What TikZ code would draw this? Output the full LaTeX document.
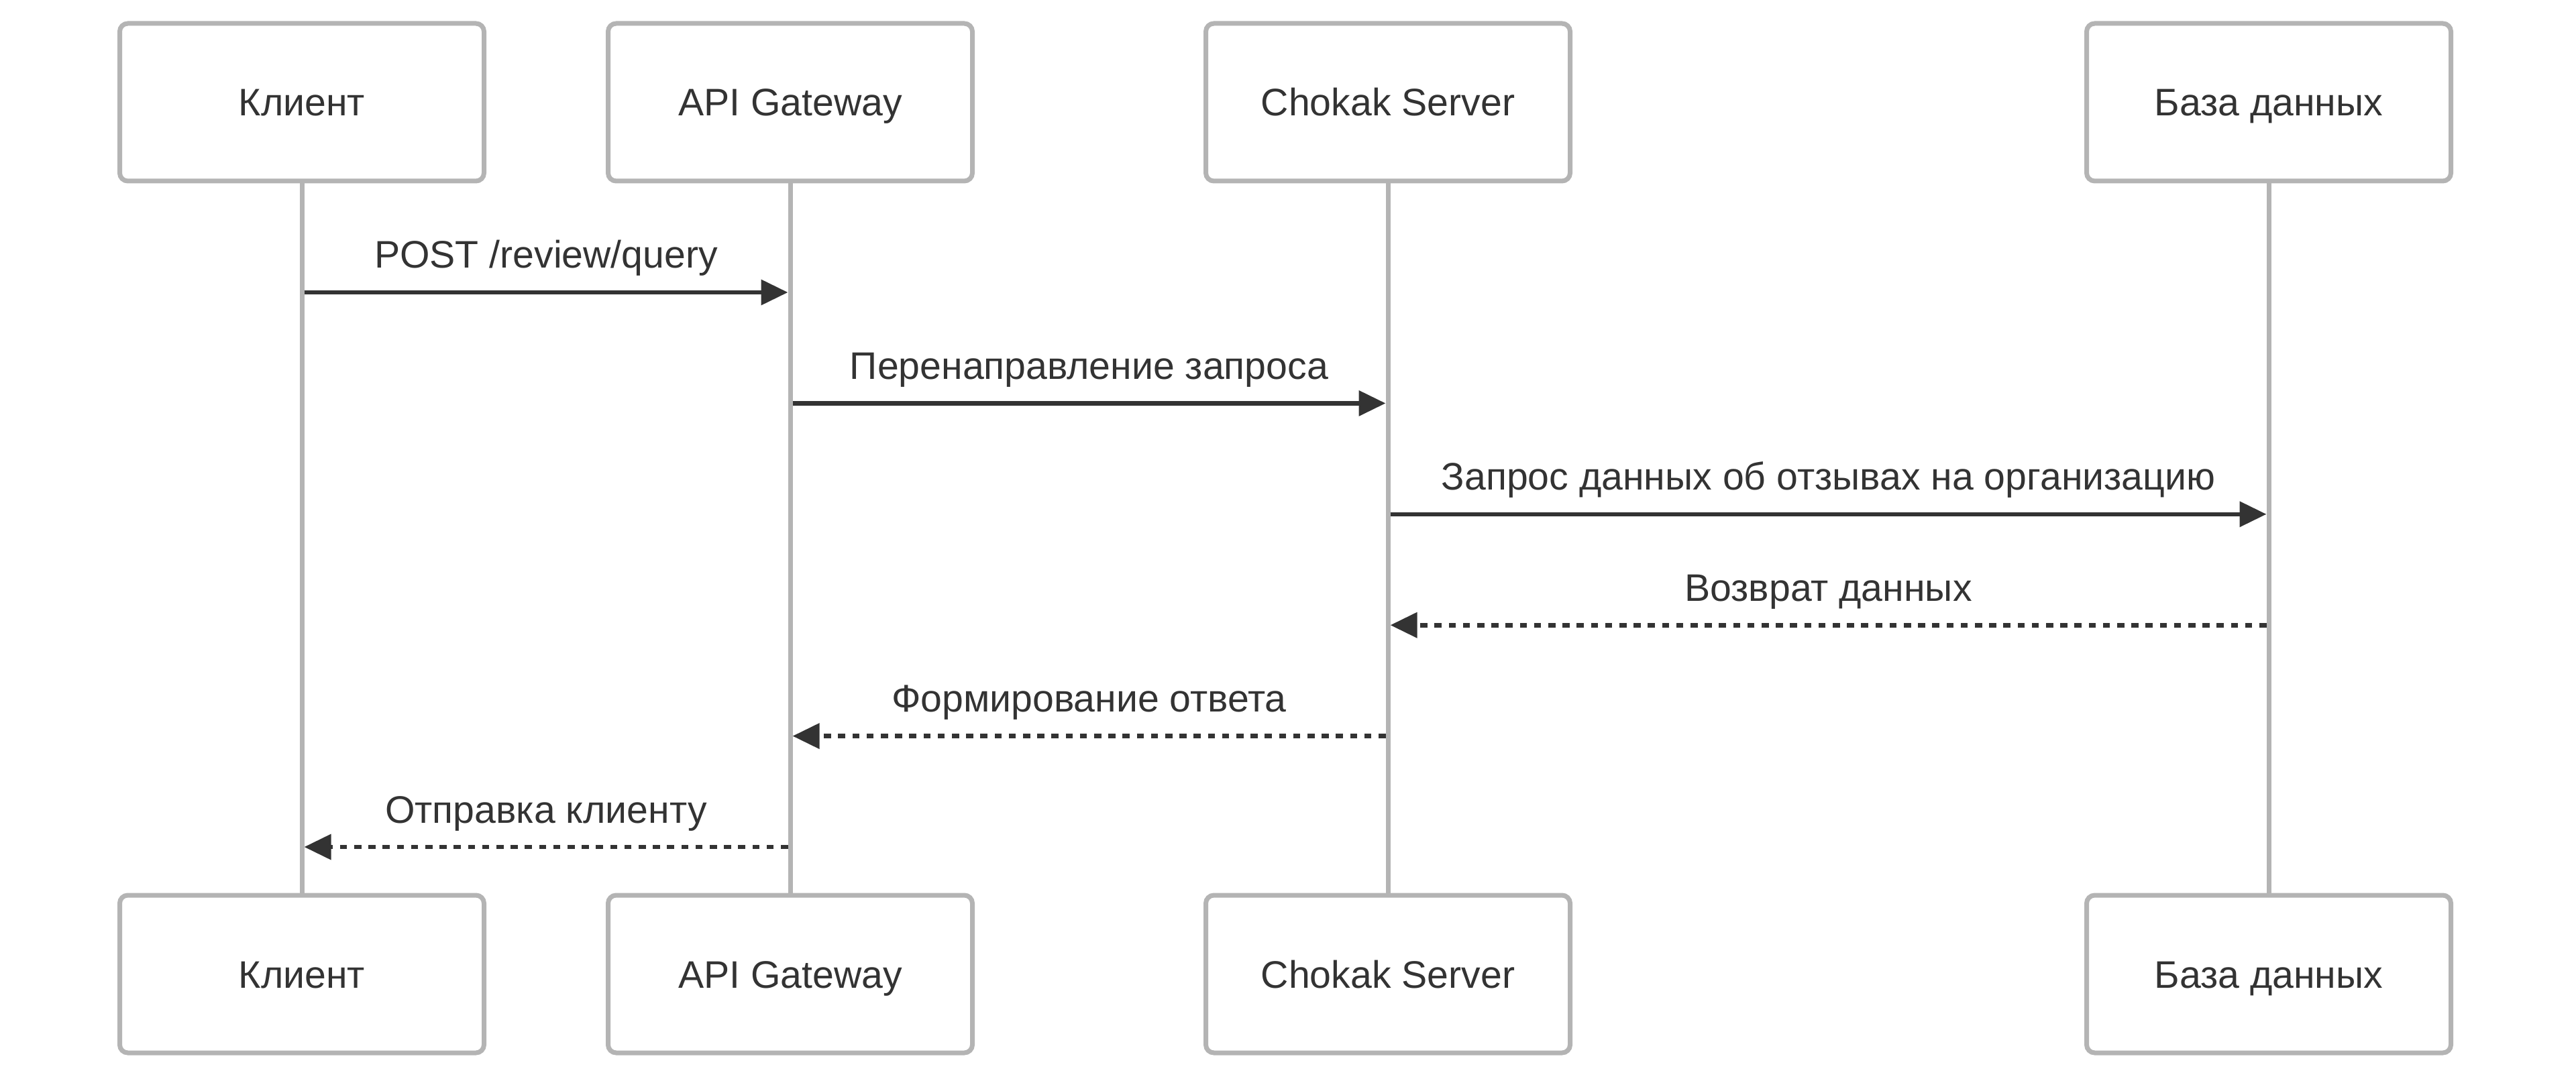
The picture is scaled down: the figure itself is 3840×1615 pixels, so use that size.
\documentclass[tikz,border=0pt]{standalone}
\usepackage{fontspec}
\setmainfont{Liberation Sans}
\usetikzlibrary{arrows.meta}
\definecolor{boxgray}{RGB}{180,180,180}
\definecolor{ink}{RGB}{51,51,51}
\tikzset{every picture/.style={line width=0.75pt}}

\begin{document}
\begin{tikzpicture}[x=0.25pt,y=-0.25pt,
  actor/.style={draw=boxgray, fill=white, line width=1.75pt, rounded corners=3pt,
    minimum width=135.75pt, minimum height=58.75pt, inner sep=0pt,
    text height=10.25pt, text depth=0pt,
    font=\fontsize{14.3pt}{17pt}\selectfont, text=ink},
  lifeline/.style={draw=boxgray, line width=1.75pt},
  msg/.style={draw=ink, line width=1.65pt, -{Triangle[length=10pt,width=9.25pt]},
    shorten <=0.875pt, shorten >=0.875pt},
  reply/.style={msg, dash pattern=on 2.65pt off 2.65pt},
  msglabel/.style={anchor=base, inner sep=0pt, yshift=9pt, text=ink,
    font=\fontsize{14.3pt}{17pt}\selectfont}]
\useasboundingbox (0,0) rectangle (3840,1615);

%Participants, top and bottom
\node[actor] (clientTop) at (450,152.5) {Клиент};
\node[actor] (gatewayTop) at (1178,152.5) {API Gateway};
\node[actor] (serverTop) at (2069,152.5) {Chokak Server};
\node[actor] (dbTop) at (3382,152.5) {База данных};
\node[actor] (clientBot) at (450,1452.5) {Клиент};
\node[actor] (gatewayBot) at (1178,1452.5) {API Gateway};
\node[actor] (serverBot) at (2069,1452.5) {Chokak Server};
\node[actor] (dbBot) at (3382,1452.5) {База данных};

%Lifelines
\foreach \nm in {client,gateway,server,db}
  \draw[lifeline] (\nm Top.south) -- (\nm Bot.north);

%Message rows on each lifeline
\foreach \nm/\x in {client/450,gateway/1178,server/2069,db/3382}
  \foreach \k in {1,...,6}
    \coordinate (\nm\k) at (\x,{436+165.4*(\k-1)});

%Messages
\draw[msg] (client1) -- node[msglabel] {POST /review/query} (gateway1);
\draw[msg] (gateway2) -- node[msglabel] {Перенаправление запроса} (server2);
\draw[msg] (server3) -- node[msglabel] {Запрос данных об отзывах на организацию} (db3);
\draw[reply] (db4) -- node[msglabel] {Возврат данных} (server4);
\draw[reply] (server5) -- node[msglabel] {Формирование ответа} (gateway5);
\draw[reply] (gateway6) -- node[msglabel] {Отправка клиенту} (client6);

\end{tikzpicture}
\end{document}
